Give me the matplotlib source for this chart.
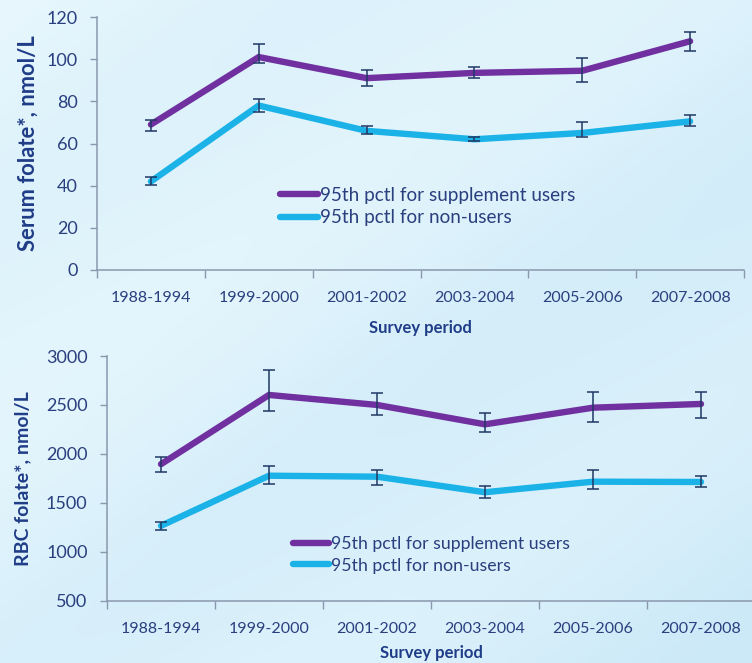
import numpy as np
import matplotlib
matplotlib.use("Agg")
import matplotlib.pyplot as plt
from matplotlib.colors import LinearSegmentedColormap
from matplotlib.lines import Line2D

# ---- data ----
periods = ["1988-1994", "1999-2000", "2001-2002", "2003-2004", "2005-2006", "2007-2008"]

serum_supp = [69, 101, 91, 93.5, 94.5, 108.5]
serum_supp_lo = [66, 98, 87.5, 91, 89, 104]
serum_supp_hi = [71, 107, 95, 96.5, 100.5, 113]
serum_non = [42, 78, 66, 62, 65, 70.5]
serum_non_lo = [40.5, 75, 64.5, 61, 63.3, 68.3]
serum_non_hi = [44.3, 81, 68.5, 63, 70, 73.5]

rbc_supp = [1895, 2602, 2500, 2302, 2472, 2510]
rbc_supp_lo = [1812, 2438, 2400, 2227, 2329, 2370]
rbc_supp_hi = [1968, 2857, 2619, 2421, 2636, 2636]
rbc_non = [1265, 1777, 1767, 1608, 1716, 1713]
rbc_non_lo = [1223, 1693, 1679, 1553, 1640, 1665]
rbc_non_hi = [1301, 1876, 1835, 1675, 1836, 1777]

serum_ticks = [0, 20, 40, 60, 80, 100, 120]
rbc_ticks = [500, 1000, 1500, 2000, 2500, 3000]

labels = ["95th pctl for supplement users", "95th pctl for non-users"]

# ---- style ----
FONT = ["Lato", "DejaVu Sans"]
plt.rcParams["font.family"] = FONT
TXT = "#2A3F7E"
LBL = "#1F3C88"
PURPLE = "#7030A0"
CYAN = "#1BB2E8"
ERR = "#1F3864"
SPINE = "#8A98AE"

W, H = 752, 663
fig = plt.figure(figsize=(W / 100, H / 100), dpi=100)

# background gradient
bg = fig.add_axes([0, 0, 1, 1], zorder=-10)
yy, xx = np.mgrid[0:1:200j, 0:1:200j]
d = 0.55 * xx + 0.45 * (1 - yy)
band = 0.5 + 0.5 * np.cos((xx * 1.2 - yy * 1.6) * 5.5)
val = 0.6 * d + 0.25 * band
cmap = LinearSegmentedColormap.from_list("bg", ["#E8F7FD", "#DBF1FB", "#CCE9F8"])
bg.imshow(val, cmap=cmap, aspect="auto", extent=[0, 1, 0, 1], origin="lower")
bg.set_axis_off()

x = np.arange(len(periods))


def draw(ax, supp, slo, shi, non, nlo, nhi, ticks, ylabel, leg_anchor,
         xlabpad, ylab_x, ylab_size, leg_size, leg_spacing):
    ax.set_facecolor("none")
    for v, lo, hi, c in [(supp, slo, shi, PURPLE), (non, nlo, nhi, CYAN)]:
        v = np.array(v, float)
        yerr = [v - np.array(lo), np.array(hi) - v]
        ax.plot(x, v, color=c, lw=4.6, solid_capstyle="round", zorder=2)
        ax.errorbar(x, v, yerr=yerr, fmt="none", ecolor=ERR, elinewidth=1.1,
                    capsize=4, capthick=1.1, zorder=3)
    ax.set_xlim(-0.5, len(periods) - 0.5)
    ax.set_ylim(ticks[0], ticks[-1])
    ax.set_yticks(ticks)
    ax.set_xticks(x)
    ax.set_xticklabels(periods)
    ax.set_xticks(np.arange(-0.5, len(periods)), minor=True)
    ax.tick_params(axis="x", which="major", length=0, pad=15, labelsize=11.5, labelcolor=TXT)
    ax.tick_params(axis="x", which="minor", length=6, color=SPINE, width=1)
    ax.tick_params(axis="y", length=5, color=SPINE, width=1, labelsize=13, labelcolor=TXT, pad=9)
    for s in ["top", "right"]:
        ax.spines[s].set_visible(False)
    for s in ["left", "bottom"]:
        ax.spines[s].set_color(SPINE)
        ax.spines[s].set_linewidth(1.1)
    ax.set_ylabel(ylabel, fontsize=ylab_size, fontweight="bold", color=LBL)
    ax.yaxis.set_label_coords(ylab_x, 0.5)
    ax.set_xlabel("Survey period", fontsize=12, fontweight="bold", color=LBL, labelpad=xlabpad)
    handles = [Line2D([], [], color=PURPLE, lw=4.6, solid_capstyle="round"),
               Line2D([], [], color=CYAN, lw=4.6, solid_capstyle="round")]
    leg = ax.legend(handles, labels, loc="center left", bbox_to_anchor=leg_anchor,
                    frameon=False, fontsize=leg_size, handlelength=2.0, handletextpad=0.12,
                    borderpad=0, borderaxespad=0, labelspacing=leg_spacing)
    for t in leg.get_texts():
        t.set_color(TXT)


ax1 = fig.add_axes([97 / W, 1 - 270 / H, 647 / W, 253 / H])
draw(ax1, serum_supp, serum_supp_lo, serum_supp_hi, serum_non, serum_non_lo, serum_non_hi,
     serum_ticks, "Serum folate*, nmol/L", (0.283, 0.251), 11, -58 / 647, 15.8, 13.6, 0.3)

ax2 = fig.add_axes([107 / W, 1 - 600.7 / H, 648 / W, 244.7 / H])
draw(ax2, rbc_supp, rbc_supp_lo, rbc_supp_hi, rbc_non, rbc_non_lo, rbc_non_hi,
     rbc_ticks, "RBC folate*, nmol/L", (0.287, 0.187), 7, -76 / 648, 14.0, 12.8, 0.3)

fig.savefig("out.png", dpi=100)
